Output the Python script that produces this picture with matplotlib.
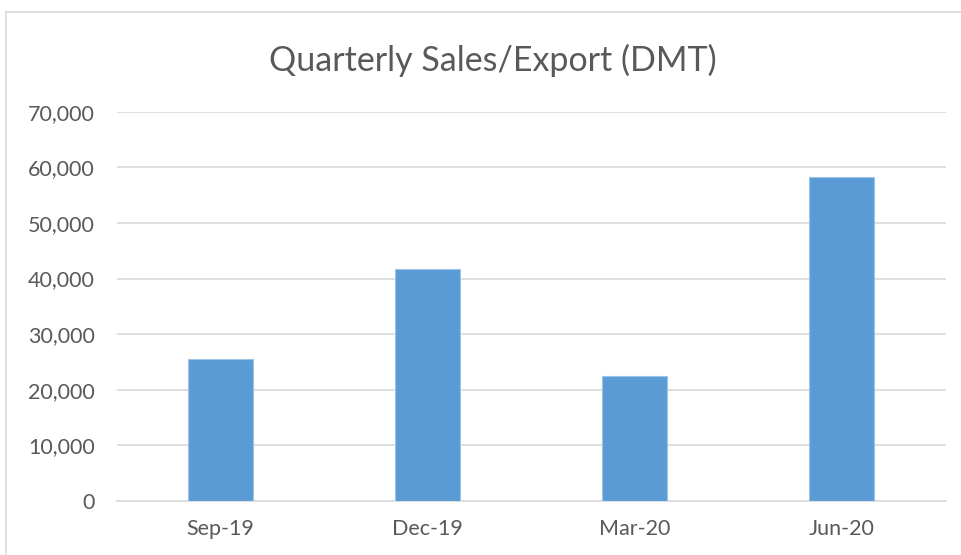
import matplotlib
matplotlib.use("Agg")
import matplotlib.pyplot as plt
from matplotlib.lines import Line2D
from matplotlib.ticker import FuncFormatter

categories = ["Sep-19", "Dec-19", "Mar-20", "Jun-20"]
values = [25500, 41700, 22500, 58200]
yticks = [0, 10000, 20000, 30000, 40000, 50000, 60000, 70000]
title = "Quarterly Sales/Export (DMT)"

W, H = 961, 555
fig = plt.figure(figsize=(W / 100, H / 100), dpi=100)
plt.rcParams['font.family'] = ['Lato', 'DejaVu Sans']
text_color = "#595959"

ax = fig.add_axes([117 / W, 1 - 501 / H, (945.5 - 117) / W, (501 - 111.7) / H])
x = list(range(len(categories)))
ax.bar(x, values, width=0.314, color="#5B9BD5", edgecolor="#9DC3E6", linewidth=0.8, zorder=3)
ax.set_xlim(-0.5, len(categories) - 0.5)
ax.set_ylim(0, 70000)
ax.set_yticks(yticks)
ax.yaxis.set_major_formatter(FuncFormatter(lambda v, p: f"{int(v):,}"))
ax.set_xticks(x)
ax.set_xticklabels(categories)
ax.grid(axis="y", color="#D9D9D9", linewidth=1.2, zorder=0)
for s in ["top", "right", "left"]:
    ax.spines[s].set_visible(False)
ax.spines["bottom"].set_color("#D9D9D9")
ax.spines["bottom"].set_linewidth(1.2)
ax.tick_params(axis="both", length=0, labelcolor=text_color, labelsize=15.5)
ax.tick_params(axis="y", pad=16)
ax.tick_params(axis="x", pad=13)

fig.text(493 / W, 1 - 60 / H, title, ha="center", va="center", fontsize=24.5, color=text_color)

# chart border
fig.add_artist(Line2D([5.5 / W, 5.5 / W], [0, 1 - 12 / H], transform=fig.transFigure, color="#D9D9D9", linewidth=1.2))
fig.add_artist(Line2D([5.5 / W, 1], [1 - 12 / H, 1 - 12 / H], transform=fig.transFigure, color="#D9D9D9", linewidth=1.2))

fig.savefig("out.png", dpi=100, facecolor="white")
